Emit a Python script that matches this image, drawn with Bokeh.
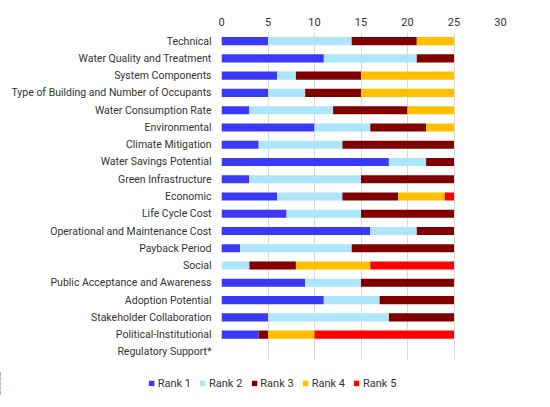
from bokeh.plotting import figure
from bokeh.models import ColumnDataSource, FixedTicker, Legend, LegendItem
from bokeh.layouts import column
from bokeh.embed import file_html
from bokeh.resources import INLINE

categories = ["Technical", "Water Quality and Treatment", "System Components",
              "Type of Building and Number of Occupants", "Water Consumption Rate",
              "Environmental", "Climate Mitigation", "Water Savings Potential",
              "Green Infrastructure", "Economic", "Life Cycle Cost",
              "Operational and Maintenance Cost", "Payback Period", "Social",
              "Public Acceptance and Awareness", "Adoption Potential",
              "Stakeholder Collaboration", "Political-Institutional",
              "Regulatory Support*"]
rank1 = [5, 11, 6, 5, 3, 10, 4, 18, 3, 6, 7, 16, 2, 0, 9, 11, 5, 4, 0]
rank2 = [9, 10, 2, 4, 9, 6, 9, 4, 12, 7, 8, 5, 12, 3, 6, 6, 13, 0, 0]
rank3 = [7, 4, 7, 6, 8, 6, 12, 3, 10, 6, 10, 4, 11, 5, 10, 8, 7, 1, 0]
rank4 = [4, 0, 10, 10, 5, 3, 0, 0, 0, 5, 0, 0, 0, 8, 0, 0, 0, 5, 0]
rank5 = [0, 0, 0, 0, 0, 0, 0, 0, 0, 1, 0, 0, 0, 9, 0, 0, 0, 15, 0]
series_names = ["Rank 1", "Rank 2", "Rank 3", "Rank 4", "Rank 5"]
x_ticks = [0, 5, 10, 15, 20, 25, 30]

colors = ["#3A3AF6", "#ABE6FA", "#800000", "#FFC000", "#FF0000"]
keys = ["r1", "r2", "r3", "r4", "r5"]
FONT = "Roboto"
TXT = "#333333"

src = ColumnDataSource(dict(cat=categories, r1=rank1, r2=rank2, r3=rank3, r4=rank4, r5=rank5))

p = figure(width=544, height=371, output_backend="svg", toolbar_location=None,
           y_range=list(reversed(categories)), x_range=(0, 30), x_axis_location="above")
p.y_range.range_padding = 0
p.min_border_left = 221
p.min_border_right = 44
p.min_border_top = 32
p.min_border_bottom = 11
p.outline_line_color = None
p.hbar_stack(keys, y="cat", height=0.47, fill_color=colors, line_color=None, source=src)

xa = p.xaxis[0]
xa.ticker = FixedTicker(ticks=x_ticks)
xa.axis_line_color = None
xa.major_tick_line_color = None
xa.major_tick_out = 0
xa.minor_tick_line_color = None
xa.minor_tick_out = 0
xa.major_label_text_font = FONT
xa.major_label_text_font_size = "11px"
xa.major_label_text_color = TXT
xa.major_label_standoff = 7

ya = p.yaxis[0]
ya.axis_line_color = None
ya.major_tick_line_color = None
ya.major_tick_out = 0
ya.minor_tick_line_color = None
ya.minor_tick_out = 0
ya.major_label_text_font = FONT
ya.major_label_text_font_size = "10.5px"
ya.major_label_text_color = TXT
ya.major_label_standoff = 10

p.xgrid.ticker = FixedTicker(ticks=x_ticks)
p.xgrid.grid_line_color = "#D9D9D9"
p.ygrid.grid_line_color = None

# legend strip: same stacked bars drawn out of its view, used only for the legend
lg = figure(width=544, height=24, output_backend="svg", toolbar_location=None,
            y_range=list(reversed(categories)), x_range=(1000, 1001),
            x_axis_location=None, y_axis_location=None)
lg.min_border_left = 0
lg.min_border_right = 0
lg.min_border_top = 0
lg.min_border_bottom = 0
lg.outline_line_color = None
lg.xgrid.grid_line_color = None
lg.ygrid.grid_line_color = None
try:
    lg.frame_align = False
    p.frame_align = False
except Exception:
    pass
lrs = lg.hbar_stack(keys, y="cat", height=0.47, fill_color=colors, line_color=None, source=src)

items = [LegendItem(label=n, renderers=[r]) for n, r in zip(series_names, lrs)]
legend = Legend(items=items, orientation="horizontal", border_line_color=None,
                background_fill_alpha=0, location="center", padding=0, margin=0,
                glyph_width=7, glyph_height=7, label_text_font=FONT,
                label_text_font_size="11px", label_text_color=TXT,
                spacing=8, label_standoff=3, label_height=12)
lg.add_layout(legend, "center")

layout = column(p, lg, spacing=0)
open("out.html", "w").write(file_html(layout, INLINE))
